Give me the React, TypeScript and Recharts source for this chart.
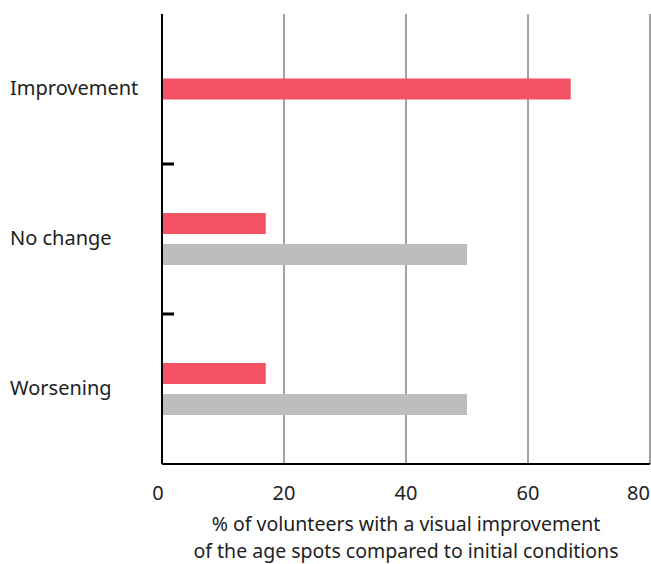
import React from "react";
import { BarChart, Bar, XAxis, YAxis, CartesianGrid } from "recharts";

const categories = ["Improvement", "No change", "Worsening"];
const redValues = [67, 17, 17];
const grayValues: (number | null)[] = [null, 50, 50];
const xTicks = [0, 20, 40, 60, 80];
const axisTitle = ["% of volunteers with a visual improvement", "of the age spots compared to initial conditions"];

const data = categories.map((c, i) => ({ name: c, red: redValues[i], gray: grayValues[i] }));

const FONT = "'Noto Sans', Lato, sans-serif";
const FS = 20;
const BAR_SIZE = 21;
const BAR_GAP = 10;
const RED = "#f25264";
const GRAY = "#bdbdbf";

const RedShape = (props: any) => {
  const { x, y, width, height, payload } = props;
  const shift = payload && payload.gray == null ? (BAR_SIZE + BAR_GAP) / 2 : 0;
  if (!width || width <= 0) return <g />;
  return <rect x={x} y={y + shift} width={width} height={height} fill={RED} />;
};

const YTick = (props: any) => {
  const { x, y, payload, index, visibleTicksCount } = props;
  const half = payload && payload.offset ? payload.offset : 75;
  const isLast = index === (visibleTicksCount ?? categories.length) - 1;
  return (
    <g>
      <text x={x - 152} y={y - 2} textAnchor="start" dominantBaseline="central" fontFamily={FONT} fontSize={FS} fill="#222">
        {payload.value}
      </text>
      {!isLast && <line x1={x} x2={x + 12} y1={y + half} y2={y + half} stroke="#000" strokeWidth={3} />}
    </g>
  );
};

const XTick = (props: any) => {
  const { x, y, payload, index } = props;
  let anchor: "middle" | "end" = "middle";
  let dx = 0;
  if (index === 0) dx = -4;
  if (index === xTicks.length - 1) {
    anchor = "end";
    dx = 0;
  }
  return (
    <text x={x + dx} y={y + 28} textAnchor={anchor} dominantBaseline="central" fontFamily={FONT} fontSize={FS} fill="#222">
      {payload.value}
    </text>
  );
};

const TitleLabel = (props: any) => {
  const vb = props.viewBox || {};
  const cx = (vb.x ?? 162) + (vb.width ?? 488) / 2;
  const top = (vb.y ?? 464);
  return (
    <g>
      <text x={cx} y={top + 59} textAnchor="middle" dominantBaseline="central" fontFamily={FONT} fontSize={19.5} fill="#222">
        {axisTitle[0]}
      </text>
      <text x={cx} y={top + 86} textAnchor="middle" dominantBaseline="central" fontFamily={FONT} fontSize={19.5} fill="#222">
        {axisTitle[1]}
      </text>
    </g>
  );
};

export default function App() {
  return (
    <div style={{ position: "absolute", left: 0, top: 0, background: "#fff" }}>
      <BarChart
        width={651}
        height={564}
        data={data}
        layout="vertical"
        margin={{ top: 14, right: 1, left: 0, bottom: 0 }}
        barSize={BAR_SIZE}
        barGap={BAR_GAP}
      >
        <CartesianGrid horizontal={false} vertical={true} stroke="#444" strokeWidth={1} />
        <XAxis
          type="number"
          domain={[0, 80]}
          ticks={xTicks}
          axisLine={{ stroke: "#000", strokeWidth: 2 }}
          tickLine={false}
          tickSize={0}
          tickMargin={0}
          height={100}
          tick={<XTick />}
          interval={0}
          label={<TitleLabel />}
        />
        <YAxis
          type="category"
          dataKey="name"
          width={162}
          axisLine={{ stroke: "#000", strokeWidth: 2 }}
          tickLine={false}
          tickSize={0}
          tickMargin={0}
          tick={<YTick />}
          interval={0}
        />
        <Bar dataKey="red" fill={RED} isAnimationActive={false} shape={<RedShape />} />
        <Bar dataKey="gray" fill={GRAY} isAnimationActive={false} />
      </BarChart>
    </div>
  );
}
